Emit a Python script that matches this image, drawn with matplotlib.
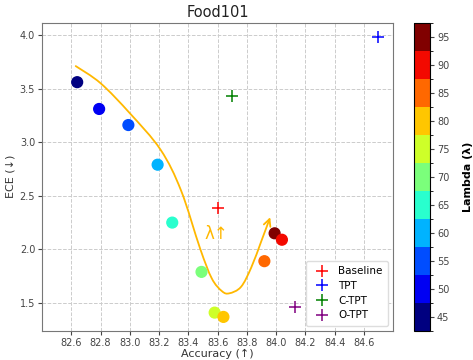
import matplotlib
matplotlib.use('Agg')
import matplotlib.pyplot as plt
import numpy as np
from matplotlib.colors import BoundaryNorm
from matplotlib.path import Path
from matplotlib.patches import FancyArrowPatch

plt.rcParams['font.family'] = ['DejaVu Sans']

# lambda sweep (circles)
lambdas = [95, 45, 50, 55, 60, 65, 70, 75, 80, 85, 90]
sweep_acc = [83.99, 82.64, 82.79, 82.99, 83.19, 83.29, 83.49, 83.58, 83.64, 83.92, 84.04]
sweep_ece = [2.15, 3.56, 3.31, 3.16, 2.79, 2.25, 1.79, 1.41, 1.37, 1.89, 2.09]

# methods (plus markers)
methods = ['Baseline', 'TPT', 'C-TPT', 'O-TPT']
method_acc = [83.60, 84.70, 83.70, 84.13]
method_ece = [2.39, 3.98, 3.43, 1.46]
method_colors = ['red', 'blue', 'green', 'purple']

# hand drawn "lambda increases" curve (waypoints)
curve_x = [82.63, 82.80, 83.00, 83.21, 83.35, 83.48, 83.56, 83.63, 83.68, 83.76, 83.83, 83.90, 83.96]
curve_y = [3.71, 3.55, 3.27, 2.93, 2.55, 2.01, 1.73, 1.61, 1.59, 1.65, 1.83, 2.08, 2.30]

fig = plt.figure(figsize=(4.73, 3.6), dpi=100)
ax = fig.add_axes([0.089, 0.081, 0.742, 0.856])
cax = fig.add_axes([0.875, 0.081, 0.034, 0.856])

bounds = np.arange(42.5, 100, 5)
cmap = plt.get_cmap('jet', len(bounds) - 1)
norm = BoundaryNorm(bounds, cmap.N)

sc = ax.scatter(sweep_acc, sweep_ece, c=lambdas, cmap=cmap, norm=norm, s=60, zorder=3)

for name, xa, ye, col in zip(methods, method_acc, method_ece, method_colors):
    ax.plot(xa, ye, '+', color=col, markersize=8, markeredgewidth=1.1, linestyle='none', label=name, zorder=3)

# smooth curve through the waypoints (Catmull-Rom -> Bezier)
pts = np.column_stack([curve_x, curve_y])
ext = np.vstack([pts[0], pts, pts[-1]])
verts = [tuple(pts[0])]
codes = [Path.MOVETO]
for i in range(1, len(ext) - 2):
    p0, p1, p2, p3 = ext[i - 1], ext[i], ext[i + 1], ext[i + 2]
    c1 = p1 + (p2 - p0) / 6
    c2 = p2 - (p3 - p1) / 6
    verts += [tuple(c1), tuple(c2), tuple(p2)]
    codes += [Path.CURVE4] * 3
arrow = FancyArrowPatch(path=Path(verts, codes), arrowstyle='->,head_length=5,head_width=2.5',
                        color='#FFB800', lw=1.3, zorder=2)
ax.add_patch(arrow)
ax.text(83.59, 2.14, 'λ↑', color='#FFB800', fontsize=12, ha='center', va='center')

ax.set_xlim(82.4, 84.8)
ax.set_ylim(1.24, 4.115)
ax.set_xticks(np.arange(82.6, 84.61, 0.2))
ax.set_yticks([1.5, 2.0, 2.5, 3.0, 3.5, 4.0])
ax.grid(True, linestyle='--', color='#cccccc', linewidth=0.7)
ax.set_axisbelow(True)
for sp in ax.spines.values():
    sp.set_color('#777777')
ax.tick_params(labelsize=7, colors='#444444', length=3, pad=2)
ax.set_xlabel('Accuracy (↑)', fontsize=8, color='#333333', labelpad=1)
ax.set_ylabel('ECE (↓)', fontsize=8, color='#333333', labelpad=3)
ax.set_title('Food101', fontsize=10.5, color='#222222', pad=4)

leg = ax.legend(loc='lower right', fontsize=7.5, handletextpad=0.6, borderpad=0.5,
                labelspacing=0.45, framealpha=1, edgecolor='#dddddd')

cb = fig.colorbar(sc, cax=cax, ticks=np.arange(45, 96, 5))
cb.ax.tick_params(labelsize=7, colors='#444444', length=3, pad=2)
cb.set_label('Lambda (λ)', fontsize=8, fontweight='bold', labelpad=10)

fig.savefig('out.png', dpi=100)
